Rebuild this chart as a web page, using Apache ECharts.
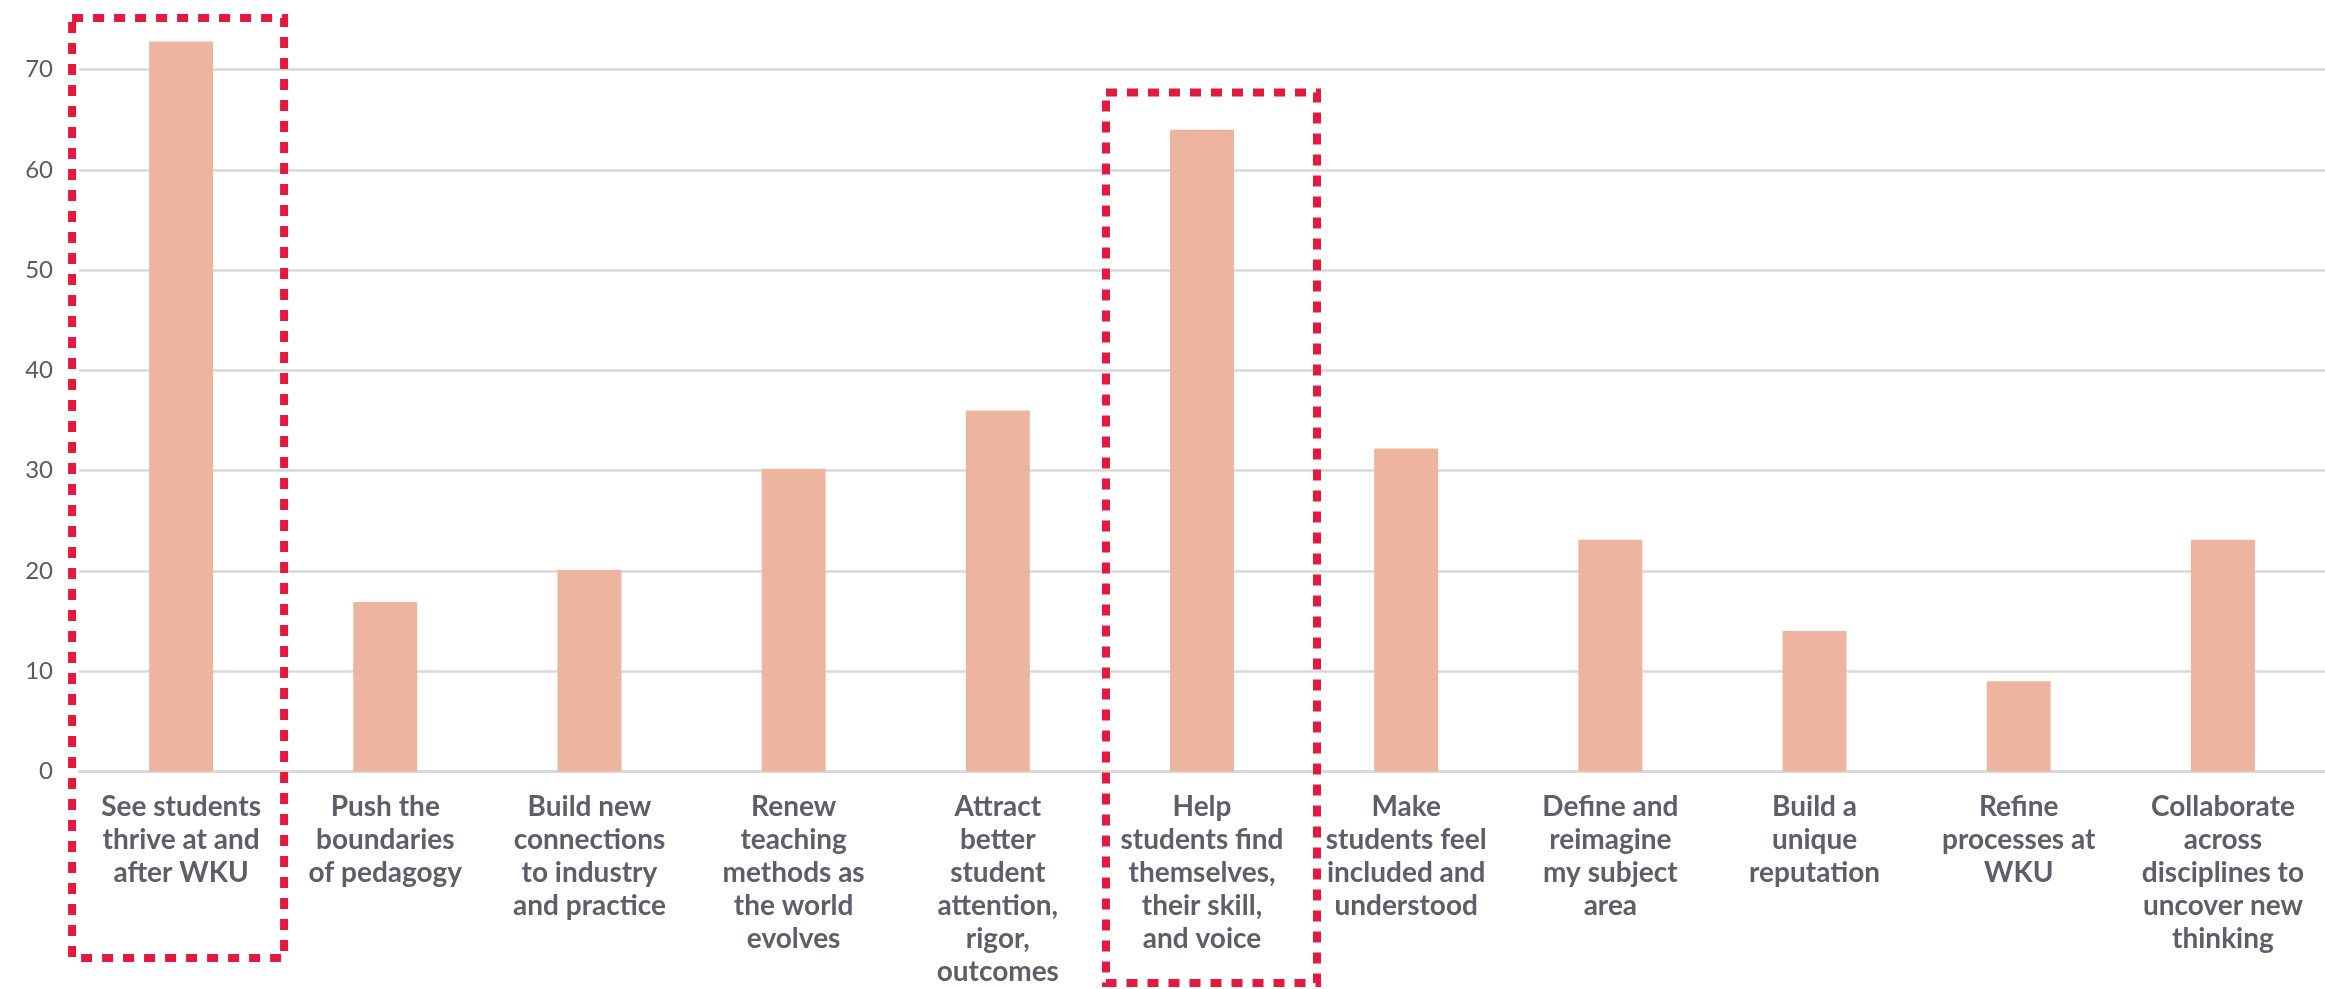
<!DOCTYPE html>
<html>
<head>
<meta charset="utf-8">
<script src="https://cdn.jsdelivr.net/npm/echarts@6/dist/echarts.min.js"></script>
<style>
  html, body { margin: 0; padding: 0; background: #ffffff; }
  #chart { width: 2325px; height: 989px; }
</style>
</head>
<body>
<div id="chart"></div>
<script>
// ---- data ----
const categories = [
  'See students\nthrive at and\nafter WKU',
  'Push the\nboundaries\nof pedagogy',
  'Build new\nconnections\nto industry\nand practice',
  'Renew\nteaching\nmethods as\nthe world\nevolves',
  'Attract\nbetter\nstudent\nattention,\nrigor,\noutcomes',
  'Help\nstudents find\nthemselves,\ntheir skill,\nand voice',
  'Make\nstudents feel\nincluded and\nunderstood',
  'Define and\nreimagine\nmy subject\narea',
  'Build a\nunique\nreputation',
  'Refine\nprocesses at\nWKU',
  'Collaborate\nacross\ndisciplines to\nuncover new\nthinking'
];
const values = [72.8, 16.9, 20.1, 30.2, 36.0, 64.0, 32.2, 23.1, 14.0, 9.0, 23.1];
const yTicks = [0, 10, 20, 30, 40, 50, 60, 70];
const highlighted = [0, 5];

const chart = echarts.init(document.getElementById('chart'), null, { renderer: 'canvas' });

const option = {
  animation: false,
  backgroundColor: '#ffffff',
  grid: { left: 79, right: 0, top: 69.5, bottom: 217.5, containLabel: false },
  xAxis: {
    type: 'category',
    data: categories,
    axisLine: { show: true, lineStyle: { color: '#D9D9D9', width: 3 } },
    axisTick: { show: false },
    axisLabel: {
      interval: 0,
      margin: 19,
      color: '#5D5F68',
      fontFamily: 'Lato, "Liberation Sans", sans-serif',
      fontWeight: 'bold',
      fontSize: 28,
      lineHeight: 33,
      align: 'center',
      verticalAlign: 'top'
    }
  },
  yAxis: {
    type: 'value',
    min: yTicks[0],
    max: yTicks[yTicks.length - 1],
    interval: 10,
    axisLine: { show: false },
    axisTick: { show: false },
    splitLine: { show: true, lineStyle: { color: '#D9D9D9', width: 2.5 } },
    axisLabel: {
      margin: 26,
      color: '#5A5B5E',
      fontFamily: 'Lato, "Liberation Sans", sans-serif',
      fontSize: 24
    }
  },
  series: [{
    type: 'bar',
    data: values,
    barWidth: 64,
    clip: false,
    itemStyle: { color: '#EDB5A0' }
  }]
};
chart.setOption(option);

// dashed highlight boxes around selected categories
const boxSpecs = [
  { idx: highlighted[0], dl: -109, dr: 103, top: 18, bottom: 958 },
  { idx: highlighted[1], dl: -96, dr: 115, top: 92.5, bottom: 983 }
];
const graphics = boxSpecs.map(b => {
  const cx = chart.convertToPixel({ xAxisIndex: 0 }, categories[b.idx]);
  return {
    type: 'rect',
    z: 100,
    shape: { x: cx + b.dl, y: b.top, width: b.dr - b.dl, height: b.bottom - b.top },
    style: {
      fill: 'none',
      stroke: '#E3193F',
      lineWidth: 8,
      lineDash: [11, 10]
    }
  };
});
chart.setOption({ graphic: graphics });
</script>
</body>
</html>
